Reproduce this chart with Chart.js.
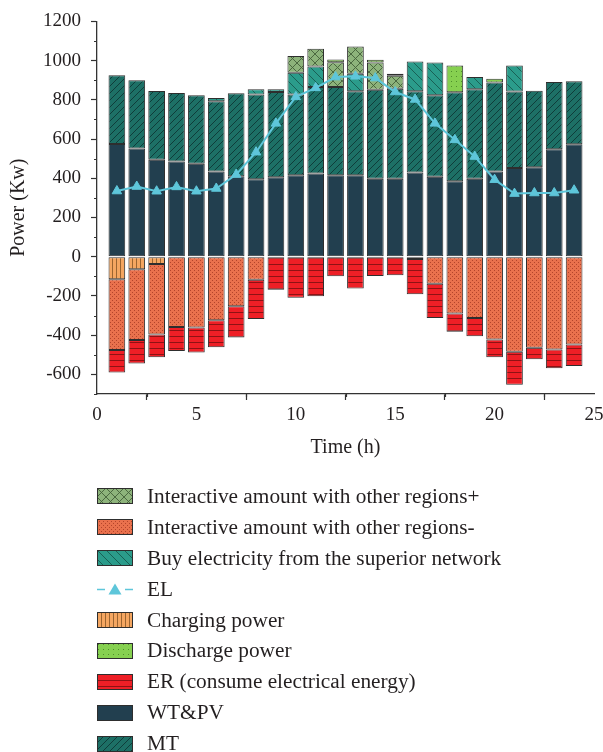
<!DOCTYPE html>
<html>
<head>
<meta charset="utf-8">
<script src="https://cdn.jsdelivr.net/npm/chart.js@4.4.1/dist/chart.umd.min.js"></script>
<style>
  html, body { margin: 0; padding: 0; background: #ffffff; }
  #wrap { position: relative; width: 603px; height: 752px; overflow: hidden; }
  #c { position: absolute; left: 0; top: 0; }
  #legend { position: absolute; left: 0; top: 481px; font-family: "Liberation Serif", "DejaVu Serif", serif; font-size: 21.3px; color: #231f20; }
  .row { height: 30.9px; display: flex; align-items: center; white-space: nowrap; }
  .row canvas { margin-left: 97px; margin-right: 14px; display: block; flex: none; }
</style>
</head>
<body>
<div id="wrap">
  <canvas id="c" width="603" height="464"></canvas>
  <div id="legend"></div>
</div>
<script>
// Hourly power balance (Kw), hours 1..24
const hours = [1, 2, 3, 4, 5, 6, 7, 8, 9, 10, 11, 12, 13, 14, 15, 16, 17, 18, 19, 20, 21, 22, 23, 24];

// supply side (stacked upward)
const wtpv       = [575, 552, 495, 486, 474, 434, 410, 395, 405, 415, 424, 415, 415, 398, 398, 430, 408, 385, 398, 434, 452, 456, 548, 574];
const mt         = [350, 348, 350, 349, 350, 359, 424, 432, 435, 412, 442, 451, 429, 454, 459, 414, 416, 454, 456, 455, 390, 391, 343, 321];
const buyGrid    = [0, 0, 0, 0, 0, 17, 0, 27, 14, 111, 104, 0, 89, 0, 0, 152, 167, 0, 62, 0, 133, 0, 0, 0];
const interPlus  = [0, 0, 0, 0, 0, 0, 0, 0, 0, 85, 90, 126, 139, 139, 66, 0, 0, 0, 0, 0, 0, 0, 0, 0];
const discharge  = [0, 0, 0, 0, 0, 0, 0, 0, 0, 0, 0, 14, 0, 13, 10, 0, 0, 136, 0, 19, 0, 0, 0, 0];

// consumption side (stacked downward)
const charging   = [-115, -64, -37, 0, 0, 0, 0, 0, 0, 0, 0, 0, 0, 0, 0, 0, 0, 0, 0, 0, 0, 0, 0, 0];
const interMinus = [-361, -361, -360, -358, -361, -324, -253, -118, 0, 0, 0, 0, 0, 0, 0, -12, -138, -290, -312, -422, -484, -464, -473, -447];
const erLoad     = [-115, -119, -116, -123, -127, -138, -159, -199, -169, -209, -201, -100, -162, -98, -95, -179, -174, -93, -93, -91, -169, -59, -96, -110];

// electric load curve
const elLoad     = [335, 358, 334, 356, 334, 348, 419, 533, 680, 815, 861, 916, 920, 911, 840, 802, 680, 596, 511, 393, 322, 325, 325, 339];

const yTickValues = [-600, -400, -200, 0, 200, 400, 600, 800, 1000, 1200];
const xTickValues = [0, 5, 10, 15, 20, 25];

const SERIF = '"Liberation Serif", "DejaVu Serif", serif';
const INK = '#231f20';

// ---- fill patterns ----
function makePattern(size, base, draw) {
  const cv = document.createElement('canvas');
  cv.width = size; cv.height = size;
  const g = cv.getContext('2d');
  g.fillStyle = base;
  g.fillRect(0, 0, size, size);
  draw(g, size);
  return { canvas: cv, pattern: document.createElement('canvas').getContext('2d').createPattern(cv, 'repeat') };
}
function lines(color, w, fn) {
  return (g, s) => { g.strokeStyle = color; g.lineWidth = w; g.beginPath(); fn(g, s); g.stroke(); };
}
const pats = {
  mt: makePattern(7, '#1d7066', lines('#0d3835', 0.9, (g, s) => {
    g.moveTo(-1, s + 1); g.lineTo(s + 1, -1);
    g.moveTo(-1, 1); g.lineTo(1, -1);
    g.moveTo(s - 1, s + 1); g.lineTo(s + 1, s - 1);
  })),
  buy: makePattern(9, '#2b9c8b', lines('#17594f', 0.9, (g, s) => {
    g.moveTo(-1, -1); g.lineTo(s + 1, s + 1);
    g.moveTo(s - 1, -1); g.lineTo(s + 1, 1);
    g.moveTo(-1, s - 1); g.lineTo(1, s + 1);
  })),
  interPlus: makePattern(9, '#8db37b', lines('#44603a', 0.9, (g, s) => {
    g.moveTo(-1, -1); g.lineTo(s + 1, s + 1);
    g.moveTo(-1, s + 1); g.lineTo(s + 1, -1);
  })),
  interMinus: makePattern(4, '#e9714d', (g) => {
    g.fillStyle = '#b3442b'; g.fillRect(0, 0, 1, 1); g.fillRect(2, 2, 1, 1);
  }),
  charging: makePattern(4, '#f4a661', (g, s) => {
    g.fillStyle = '#9a6430'; g.fillRect(0, 0, 1, s);
  }),
  discharge: makePattern(5, '#86d050', (g) => {
    g.fillStyle = '#4f8f2c'; g.fillRect(1, 1, 1, 1);
  }),
  er: makePattern(6, '#ee1f26', (g, s) => {
    g.fillStyle = '#8e1214'; g.fillRect(0, 0, s, 1);
  }),
};

const toPoints = (arr) => arr.map((v, i) => ({ x: hours[i], y: v === 0 ? null : v }));

const EDGE = '#2e2e2e';
function barSet(label, data, fill) {
  return {
    type: 'bar', label, data: toPoints(data), backgroundColor: fill,
    borderColor: EDGE, borderWidth: 1, borderSkipped: false,
    stack: 'power', order: 1,
    categoryPercentage: 1.0, barPercentage: 0.84,
  };
}

const datasets = [
  barSet('WT&PV', wtpv, '#223f4f'),
  barSet('MT', mt, pats.mt.pattern),
  barSet('Buy electricity from the superior network', buyGrid, pats.buy.pattern),
  barSet('Interactive amount with other regions+', interPlus, pats.interPlus.pattern),
  barSet('Discharge power', discharge, pats.discharge.pattern),
  barSet('Charging power', charging, pats.charging.pattern),
  barSet('Interactive amount with other regions-', interMinus, pats.interMinus.pattern),
  barSet('ER (consume electrical energy)', erLoad, pats.er.pattern),
  {
    type: 'line', label: 'EL', data: hours.map((h, i) => ({ x: h, y: elLoad[i] })),
    borderColor: '#5ec6da', backgroundColor: '#5ec6da', borderWidth: 2,
    pointStyle: 'triangle', pointRadius: 5.5, pointBorderWidth: 1,
    stack: 'load', order: 0, tension: 0,
  },
];

// short unlabeled ticks between the labeled ones
const minorTicks = {
  id: 'minorTicks',
  afterDraw(chart) {
    const { ctx, scales: { x, y } } = chart;
    ctx.save();
    ctx.strokeStyle = '#333';
    ctx.lineWidth = 1.2;
    ctx.beginPath();
    for (let v = -700; v <= 1100; v += 200) {
      const py = Math.round(y.getPixelForValue(v)) + 0.5;
      ctx.moveTo(x.left, py); ctx.lineTo(x.left - 3, py);
    }
    for (let v = 2.5; v < 25; v += 5) {
      const px = Math.round(x.getPixelForValue(v)) + 0.5;
      ctx.moveTo(px, y.bottom); ctx.lineTo(px, y.bottom + 3);
    }
    ctx.stroke();
    ctx.restore();
  }
};

const chart = new Chart(document.getElementById('c'), {
  data: { datasets },
  plugins: [minorTicks],
  options: {
    responsive: false,
    animation: false,
    layout: { padding: { left: 0, right: 9, top: 19, bottom: 0 } },
    plugins: { legend: { display: false }, tooltip: { enabled: false } },
    scales: {
      x: {
        type: 'linear', min: 0, max: 25, offset: false,
        afterBuildTicks: (s) => { s.ticks = xTickValues.map(v => ({ value: v })); },
        afterFit: (s) => { s.height = 70; s.paddingRight = 9; s.paddingLeft = 0; },
        grid: { drawOnChartArea: false, drawTicks: true, tickLength: 6, tickColor: '#333', tickWidth: 1.2 },
        border: { display: true, color: '#333', width: 1.3 },
        ticks: { color: INK, font: { family: SERIF, size: 19 }, padding: 4, maxRotation: 0, callback: (v) => String(v) },
        title: { display: true, text: 'Time (h)', color: INK, font: { family: SERIF, size: 20 } },
      },
      y: {
        type: 'linear', stacked: true, min: -700, max: 1200,
        afterBuildTicks: (s) => { s.ticks = yTickValues.map(v => ({ value: v })); },
        afterFit: (s) => { s.width = 97; },
        grid: { drawOnChartArea: false, drawTicks: true, tickLength: 6, tickColor: '#333', tickWidth: 1.2 },
        border: { display: true, color: '#333', width: 1.3 },
        ticks: { color: INK, font: { family: SERIF, size: 19 }, padding: 10, callback: (v) => String(v) },
        title: { display: true, text: 'Power (Kw)', color: INK, font: { family: SERIF, size: 20 }, padding: { top: 7, bottom: 0 } },
      },
    },
  },
});

// ---- legend (one entry per row) ----
const legendOrder = [
  'Interactive amount with other regions+',
  'Interactive amount with other regions-',
  'Buy electricity from the superior network',
  'EL',
  'Charging power',
  'Discharge power',
  'ER (consume electrical energy)',
  'WT&PV',
  'MT',
];
const legendEl = document.getElementById('legend');
legendOrder.forEach((name) => {
  const ds = chart.data.datasets.find(d => d.label === name);
  const row = document.createElement('div');
  row.className = 'row';
  const sw = document.createElement('canvas');
  sw.width = 36; sw.height = 16;
  const g = sw.getContext('2d');
  if (ds.type === 'line') {
    g.strokeStyle = ds.borderColor; g.lineWidth = 1.6;
    g.beginPath();
    g.moveTo(0, 8.5); g.lineTo(8, 8.5);
    g.moveTo(28, 8.5); g.lineTo(36, 8.5);
    g.stroke();
    g.fillStyle = ds.backgroundColor;
    g.beginPath();
    g.moveTo(18, 2.5); g.lineTo(24.5, 13.5); g.lineTo(11.5, 13.5); g.closePath();
    g.fill();
  } else {
    g.fillStyle = ds.backgroundColor;
    g.fillRect(1, 1, 34, 14);
    g.strokeStyle = EDGE; g.lineWidth = 1;
    g.strokeRect(0.5, 0.5, 35, 15);
  }
  const txt = document.createElement('span');
  txt.textContent = name;
  row.appendChild(sw);
  row.appendChild(txt);
  legendEl.appendChild(row);
});
</script>
</body>
</html>
